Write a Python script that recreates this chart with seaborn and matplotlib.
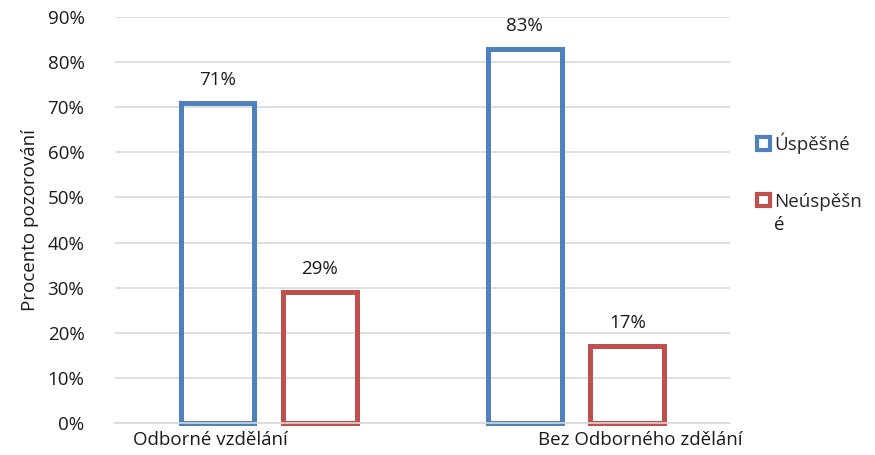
import matplotlib
matplotlib.use("Agg")
import matplotlib.pyplot as plt
from matplotlib.patches import Patch
import seaborn as sns
import pandas as pd

categories = ["Odborné vzdělání", "Bez Odborného zdělání"]
series = ["Úspěšné", "Neúspěšné"]
uspesne = [0.71, 0.83]
neuspesne = [0.29, 0.17]
y_ticks = [0.0, 0.1, 0.2, 0.3, 0.4, 0.5, 0.6, 0.7, 0.8, 0.9]
colors = ["#4F81BD", "#C0504D"]

df = pd.DataFrame({
    "Kategorie": categories * 2,
    "Výsledek": [series[0]] * 2 + [series[1]] * 2,
    "Podíl": uspesne + neuspesne,
})

sns.set_theme(style="white")
plt.rcParams["font.family"] = ["Open Sans", "DejaVu Sans"]
FS = 13.5
TXT = "#1a1a1a"

fig = plt.figure(figsize=(8.75, 4.55), dpi=100)
ax = fig.add_axes([0.1314, 0.0703, 0.7026, 0.8923])

sns.barplot(data=df, x="Kategorie", y="Podíl", hue="Výsledek",
            order=categories, hue_order=series, palette=colors,
            width=0.667, gap=0.28, fill=False, linewidth=3.6,
            errorbar=None, legend=False, ax=ax)

for p in ax.patches:
    p.set_clip_on(False)

# value labels above each bar
for cont in ax.containers:
    ax.bar_label(cont, labels=[f"{v * 100:.0f}%" for v in cont.datavalues],
                 padding=10, fontsize=FS, color=TXT)

ax.set_ylim(0, 0.9)
ax.set_xlim(-0.5, 1.5)
ax.set_yticks(y_ticks)
ax.set_yticklabels([f"{t * 100:.0f}%" for t in y_ticks], fontsize=FS, color=TXT)
ax.yaxis.grid(True, color="#d9d9d9", linewidth=1.2)
ax.set_axisbelow(True)
for side in ["top", "right", "left"]:
    ax.spines[side].set_visible(False)
ax.spines["bottom"].set_color("#d9d9d9")
ax.spines["bottom"].set_linewidth(1.2)
ax.tick_params(axis="both", length=0, pad=22)

ax.set_ylabel("")
ax.set_xlabel("")
ax.set_xticks([0, 1])
ax.set_xticklabels(["", ""])
fig.text(30 / 875, 1 - 220 / 455, "Procento pozorování", rotation=90,
         ha="center", va="center", fontsize=FS, color=TXT)

# category labels, placed below the axis
ax.text(-0.19, -0.02, categories[0], ha="center", va="top",
        fontsize=FS, color=TXT, transform=ax.get_xaxis_transform())
ax.text(1.21, -0.02, categories[1], ha="center", va="top",
        fontsize=FS, color=TXT, transform=ax.get_xaxis_transform())

# legend; the long label wraps onto a second line below its first line
handles = [Patch(facecolor="white", edgecolor=c, linewidth=3) for c in colors]
legend_labels = [series[0], series[1][:-1]]
leg = fig.legend(handles, legend_labels, loc="upper left",
                 bbox_to_anchor=(0.857, 0.725), frameon=False, fontsize=FS,
                 handlelength=0.65, handleheight=0.65, handletextpad=0.25,
                 labelspacing=2.05, borderaxespad=0)
fig.canvas.draw()
bb = leg.get_texts()[1].get_window_extent().transformed(fig.transFigure.inverted())
fig.text(bb.x0, bb.y0 - 0.012, series[1][-1], ha="left", va="top",
         fontsize=FS, color=TXT)

fig.savefig("out.png", dpi=100, facecolor="white")
